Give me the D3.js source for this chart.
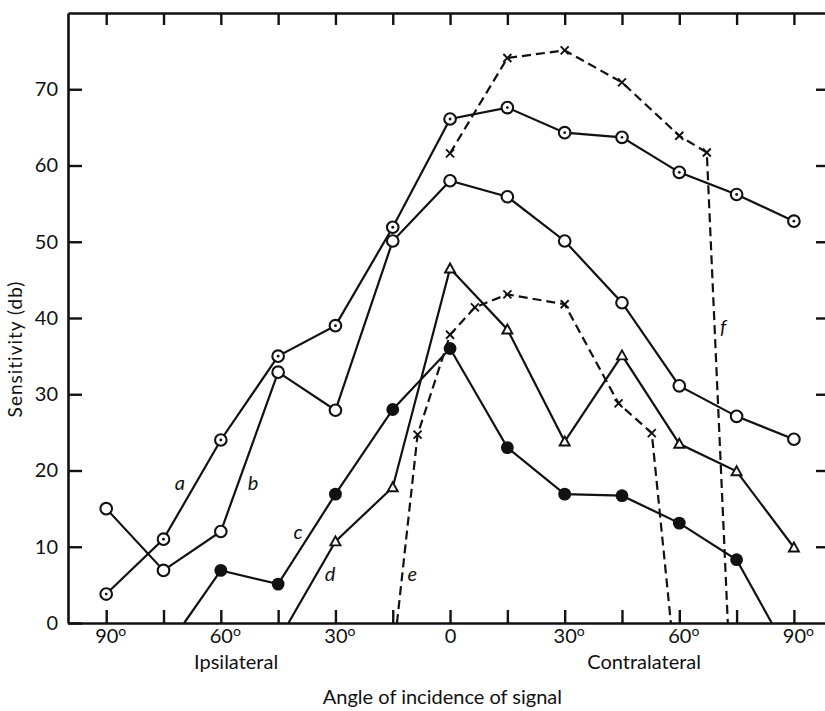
<!DOCTYPE html>
<html>
<head>
<meta charset="utf-8">
<script src="https://cdn.jsdelivr.net/npm/d3@7"></script>
<style>
  body { margin: 0; background: #fff; }
  svg text { font-family: Lato, "Open Sans", sans-serif; fill: #111; }
  .domain, .tick line { stroke: #111; }
</style>
</head>
<body>
<div id="chart"></div>
<script>
// angle of incidence (negative = ipsilateral), sensitivity in db
var anglesAB = [-90, -75, -60, -45, -30, -15, 0, 15, 30, 45, 60, 75, 90];
var valuesA = [3.8, 11.0, 24.0, 35.0, 39.0, 51.9, 66.1, 67.6, 64.3, 63.7, 59.1, 56.2, 52.7];
var valuesB = [15.0, 6.9, 12.0, 32.9, 27.9, 50.1, 58.0, 55.9, 50.1, 42.0, 31.1, 27.1, 24.1];

var anglesC = [-69.6, -60, -45, -30, -15, 0, 15, 30, 45, 60, 75, 84.2];
var valuesC = [0, 6.9, 5.1, 16.9, 28.0, 36.0, 23.0, 16.9, 16.7, 13.1, 8.3, 0];

var anglesD = [-42.3, -30, -15, 0, 15, 30, 45, 60, 75, 90];
var valuesD = [0, 10.7, 17.8, 46.5, 38.5, 23.8, 35.1, 23.5, 19.9, 9.9];

var anglesE = [-13.9, -8.5, 0, 6.5, 15, 30, 44.1, 52.8, 57.8];
var valuesE = [0, 24.7, 37.8, 41.4, 43.1, 41.8, 28.8, 24.9, 0];

var anglesF = [0, 15, 30, 45, 60, 67.2, 72.7];
var valuesF = [61.6, 74.1, 75.1, 70.9, 63.9, 61.7, 0];

var xTicks = [-90, -75, -60, -45, -30, -15, 0, 15, 30, 45, 60, 75, 90];
var xTickLabels = {"-90": "90", "-60": "60", "-30": "30", "0": "0", "30": "30", "60": "60", "90": "90"};
var yTicks = [0, 10, 20, 30, 40, 50, 60, 70];

// series letters, placed in data units
var labelNames = ["a", "b", "c", "d", "e", "f"];
var labelAngles = [-70.7, -51.6, -39.8, -31.4, -9.9, 71.5];
var labelValues = [17.4, 17.4, 11.0, 5.5, 5.5, 37.9];

var width = 825, height = 711;

var svg = d3.select("#chart").append("svg")
    .attr("width", width)
    .attr("height", height);

var x = d3.scaleLinear().domain([-100, 98.4]).range([68, 826]);
var y = d3.scaleLinear().domain([0, 80]).range([623, 13]);

var series = [
  {angles: anglesAB, values: valuesA, marker: "dot", dashed: false},
  {angles: anglesAB, values: valuesB, marker: "open", dashed: false},
  {angles: anglesC, values: valuesC, marker: "filled", dashed: false},
  {angles: anglesD, values: valuesD, marker: "triangle", dashed: false},
  {angles: anglesE, values: valuesE, marker: "cross", dashed: true},
  {angles: anglesF, values: valuesF, marker: "cross", dashed: true}
];

// frame / axes
function degreeLabels(sel) {
  sel.selectAll(".tick text").each(function(d) {
    var t = d3.select(this);
    var lab = xTickLabels[String(d)];
    t.text(null);
    if (lab === undefined) return;
    t.append("tspan").text(lab);
    if (d !== 0) {
      t.attr("x", 4);
      t.append("tspan").attr("font-size", 14).attr("dy", "-0.5em").text("o");
    }
  });
}

var gBottom = svg.append("g")
    .attr("transform", "translate(0," + y(0) + ")")
    .call(d3.axisBottom(x).tickValues(xTicks).tickSizeInner(-13).tickSizeOuter(0).tickPadding(6));
gBottom.call(degreeLabels);

svg.append("g")
    .attr("transform", "translate(0," + y(80) + ")")
    .call(d3.axisTop(x).tickValues(xTicks).tickSizeInner(-12).tickSizeOuter(0).tickFormat(""));

svg.append("g")
    .attr("transform", "translate(" + x(-100) + ",0)")
    .call(d3.axisLeft(y).tickValues(yTicks).tickSizeInner(-14).tickSizeOuter(0).tickPadding(10));

svg.append("g")
    .attr("transform", "translate(" + x(98.4) + ",0)")
    .call(d3.axisRight(y).tickValues(yTicks.filter(function(v) { return v > 0; })).tickSizeInner(-10).tickSizeOuter(0).tickFormat(""));

svg.selectAll(".domain").attr("stroke-width", 2.6);
svg.selectAll(".tick line").attr("stroke-width", 2.4);
svg.selectAll(".tick text").attr("font-size", 20).attr("fill", "#111");

// axis titles
svg.append("text")
    .attr("transform", "translate(22," + 349 + ")rotate(-90)")
    .attr("text-anchor", "middle")
    .attr("font-size", 19)
    .attr("letter-spacing", 1)
    .text("Sensitivity (db)");

svg.append("text")
    .attr("x", x(-56)).attr("y", 669)
    .attr("text-anchor", "middle")
    .attr("font-size", 20)
    .text("Ipsilateral");

svg.append("text")
    .attr("x", x(50.8)).attr("y", 669)
    .attr("text-anchor", "middle")
    .attr("font-size", 20)
    .text("Contralateral");

svg.append("text")
    .attr("x", x(-2)).attr("y", 704)
    .attr("text-anchor", "middle")
    .attr("font-size", 20)
    .text("Angle of incidence of signal");

// lines
var line = d3.line()
    .x(function(d) { return x(d[0]); })
    .y(function(d) { return y(d[1]); });

series.forEach(function(s) {
  var pts = s.angles.map(function(a, i) { return [a, s.values[i]]; });
  svg.append("path")
      .datum(pts)
      .attr("d", line)
      .attr("fill", "none")
      .attr("stroke", "#111")
      .attr("stroke-width", 2.2)
      .attr("stroke-dasharray", s.dashed ? "9,5" : null);
});

// markers (end points sitting on the zero line carry none)
series.forEach(function(s) {
  var pts = s.angles.map(function(a, i) { return [a, s.values[i]]; })
      .filter(function(d) { return d[1] > 0; });
  var g = svg.append("g");
  pts.forEach(function(d) {
    var cx = x(d[0]), cy = y(d[1]);
    if (s.marker === "dot" || s.marker === "open") {
      g.append("circle").attr("cx", cx).attr("cy", cy).attr("r", 5.8)
          .attr("fill", "#fff").attr("stroke", "#111").attr("stroke-width", 2.1);
      if (s.marker === "dot")
        g.append("circle").attr("cx", cx).attr("cy", cy).attr("r", 1.4).attr("fill", "#111");
    } else if (s.marker === "filled") {
      g.append("circle").attr("cx", cx).attr("cy", cy).attr("r", 6.4).attr("fill", "#111");
    } else if (s.marker === "triangle") {
      g.append("path")
          .attr("d", "M" + cx + "," + (cy - 5) + "L" + (cx + 5) + "," + (cy + 4) + "L" + (cx - 5) + "," + (cy + 4) + "Z")
          .attr("fill", "#fff").attr("stroke", "#111").attr("stroke-width", 1.9);
    } else if (s.marker === "cross") {
      g.append("path")
          .attr("d", "M" + (cx - 4) + "," + (cy - 4) + "L" + (cx + 4) + "," + (cy + 4) +
                     "M" + (cx + 4) + "," + (cy - 4) + "L" + (cx - 4) + "," + (cy + 4))
          .attr("stroke", "#111").attr("stroke-width", 1.9);
    }
  });
});

// series letters
svg.selectAll(".series-label")
    .data(labelNames)
    .enter().append("text")
    .attr("class", "series-label")
    .attr("x", function(d, i) { return x(labelAngles[i]); })
    .attr("y", function(d, i) { return y(labelValues[i]); })
    .attr("text-anchor", "middle")
    .attr("font-size", 20)
    .attr("font-style", "italic")
    .text(function(d) { return d; });
</script>
</body>
</html>
